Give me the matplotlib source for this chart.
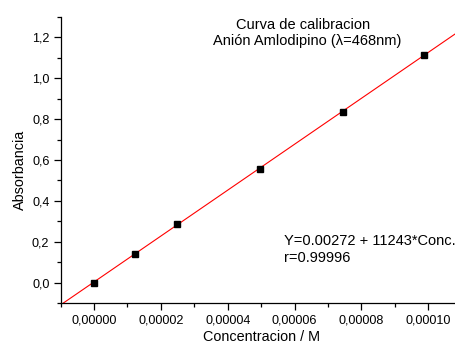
import numpy as np
import matplotlib
matplotlib.use('Agg')
import matplotlib.pyplot as plt
from matplotlib.ticker import MultipleLocator, FuncFormatter

plt.rcParams['font.family'] = ['Liberation Sans', 'DejaVu Sans']

# calibration points: concentration (M) vs absorbance
conc = [0.0, 1.24e-5, 2.48e-5, 4.96e-5, 7.44e-5, 9.88e-5]
absorb = [0.000, 0.140, 0.286, 0.554, 0.836, 1.113]

# linear fit
intercept = 0.00272
slope = 11243
r_value = 0.99996

fig = plt.figure(figsize=(4.56, 3.5), dpi=100)
ax = fig.add_axes([0.1327, 0.1343, 0.880, 0.8171])

xfit = np.array([-1e-5, 1.1e-4])
ax.plot(xfit, intercept + slope * xfit, color='red', lw=0.8, zorder=2)
ax.plot(conc, absorb, 's', color='black', ms=4.8, zorder=3)

ax.set_xlim(-1e-5, 1.1e-4)
ax.set_ylim(-0.1, 1.3)

ax.spines['top'].set_visible(False)
ax.spines['right'].set_visible(False)
ax.spines['left'].set_linewidth(0.9)
ax.spines['bottom'].set_linewidth(0.9)

ax.xaxis.set_major_locator(MultipleLocator(2e-5))
ax.xaxis.set_minor_locator(MultipleLocator(1e-5))
ax.yaxis.set_major_locator(MultipleLocator(0.2))
ax.yaxis.set_minor_locator(MultipleLocator(0.1))
ax.xaxis.set_major_formatter(FuncFormatter(lambda v, p: f"{v:.5f}".replace('.', ',').replace('-0,00000', '0,00000')))
ax.yaxis.set_major_formatter(FuncFormatter(lambda v, p: f"{v:.1f}".replace('.', ',').replace('-0,0', '0,0')))
ax.tick_params(which='major', direction='out', length=5, width=0.9, labelsize=9.1, pad=3)
ax.tick_params(which='minor', direction='out', length=3, width=0.9)

ax.set_xlabel('Concentracion / M', fontsize=10.4, labelpad=3)
ax.set_ylabel('Absorbancia', fontsize=10.4)
ax.yaxis.set_label_coords(-0.084, 0.465)

ax.text(6.24e-5, 1.262, 'Curva de calibracion', ha='center', va='center', fontsize=10.5)
ax.text(6.39e-5, 1.183, 'Anión Amlodipino (λ=468nm)', ha='center', va='center', fontsize=10.5)
ax.text(5.68e-5, 0.2015, f'Y={intercept:.5f} + {slope}*Conc.',
        ha='left', va='center', fontsize=10.5)
ax.text(5.68e-5, 0.121, f'r={r_value}', ha='left', va='center', fontsize=10.5)

fig.savefig('out.png', dpi=100)
